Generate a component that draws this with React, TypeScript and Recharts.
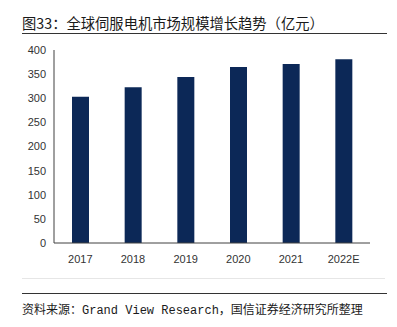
import { Bar, BarChart, XAxis, YAxis } from "recharts"

const years = ["2017", "2018", "2019", "2020", "2021", "2022E"]
const marketSize = [303, 323, 344, 365, 371, 381]
const yTicks = [0, 50, 100, 150, 200, 250, 300, 350, 400]

const data = years.map((year, i) => ({ year, value: marketSize[i] }))

const cjk = '"Noto Sans CJK SC", "Noto Sans", sans-serif'

export default function App() {
    return (
        <div style={{ position: "absolute", left: 0, top: 0, width: 397, height: 327, background: "#fff" }}>
            <div
                style={{
                    position: "absolute",
                    left: 22,
                    top: 13,
                    fontFamily: cjk,
                    fontSize: 14.3,
                    lineHeight: "20px",
                    color: "#1a1a1a",
                    whiteSpace: "nowrap",
                }}
            >
                图33：全球伺服电机市场规模增长趋势（亿元）
            </div>
            <div style={{ position: "absolute", left: 22, top: 33, width: 365, height: 1, background: "#333" }} />

            <div style={{ position: "absolute", left: 0, top: 0 }}>
                <BarChart
                    width={397}
                    height={327}
                    data={data}
                    margin={{ top: 50, right: 27, bottom: 54, left: 14 }}
                >
                    <XAxis
                        dataKey="year"
                        height={30}
                        tickLine={false}
                        axisLine={{ stroke: "#404040" }}
                        tickMargin={6}
                        tick={{ fill: "#333", fontSize: 11, fontFamily: "Liberation Sans, Arial, sans-serif" }}
                        interval={0}
                    />
                    <YAxis
                        width={40}
                        domain={[0, 400]}
                        ticks={yTicks}
                        tickLine={false}
                        axisLine={{ stroke: "#404040" }}
                        tick={{ fill: "#333", fontSize: 11, fontFamily: "Liberation Sans, Arial, sans-serif" }}
                        interval={0}
                    />
                    <Bar dataKey="value" fill="#0c2857" barSize={17} isAnimationActive={false} />
                </BarChart>
            </div>

            <div style={{ position: "absolute", left: 22, top: 278, width: 363, height: 1, background: "#e6e6e6" }} />
            <div style={{ position: "absolute", left: 22, top: 293, width: 365, height: 1, background: "#333" }} />
            <div
                style={{
                    position: "absolute",
                    left: 22,
                    top: 300,
                    fontFamily: cjk,
                    fontSize: 12,
                    lineHeight: "18px",
                    color: "#1a1a1a",
                    whiteSpace: "nowrap",
                }}
            >
                资料来源：<span style={{ fontFamily: '"Liberation Mono", "DejaVu Sans Mono", monospace' }}>Grand View Research</span>，国信证券经济研究所整理
            </div>
        </div>
    )
}
